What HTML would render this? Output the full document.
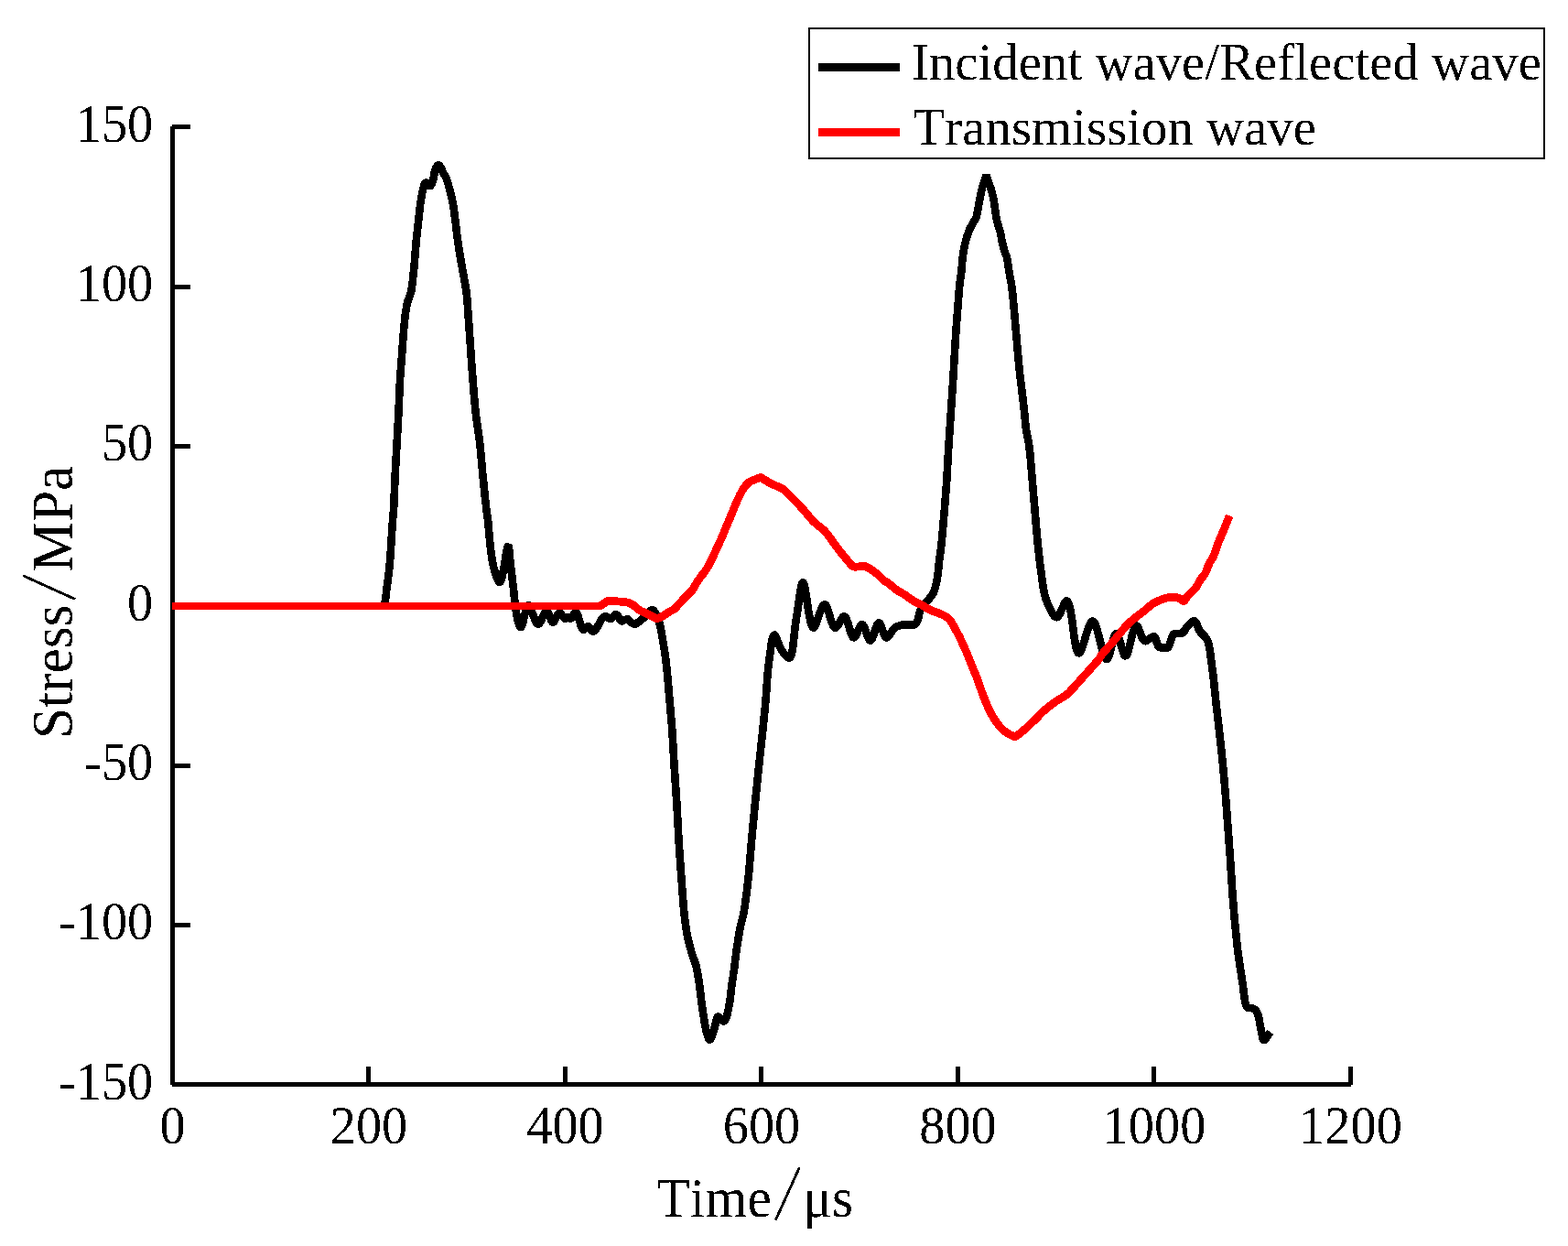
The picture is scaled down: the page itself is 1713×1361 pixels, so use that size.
<!DOCTYPE html>
<html lang="en">
<head>
<meta charset="utf-8">
<title>Stress - time curves: incident/reflected and transmission waves</title>
<style>
html,body{margin:0;padding:0;background:#fff}
body{width:1713px;height:1361px;overflow:hidden}
svg{display:block}
text{font-family:"Liberation Serif",serif;fill:#000;font-kerning:none;font-variant-ligatures:none}
.tk{font-size:56.4px}
.ti{font-size:59.3px}
.ty{font-size:61.3px}
.lg{font-size:56.85px}
.sl{font-family:"IPAGothic","Liberation Serif",sans-serif;font-size:64.6px}
</style>
</head>
<body>
<svg width="1713" height="1361" viewBox="0 0 1713 1361">
<defs><filter id="thr" x="0" y="0" width="1713" height="1361" filterUnits="userSpaceOnUse" color-interpolation-filters="sRGB"><feComponentTransfer><feFuncA type="discrete" tableValues="0 1"/></feComponentTransfer></filter></defs>
<rect width="1713" height="1361" fill="#fff"/>
<g id="axes" fill="#000" shape-rendering="crispEdges">
<path d="M188 136H208V141H191V1182H1473V1165H1478V1185H1476V1187H188V1185H186V138H188Z"/>
<rect x="191" y="311" width="17" height="5"/>
<rect x="191" y="485" width="17" height="5"/>
<rect x="191" y="659" width="17" height="5"/>
<rect x="191" y="834" width="17" height="5"/>
<rect x="191" y="1008" width="17" height="5"/>
<rect x="400" y="1165" width="5" height="17"/>
<rect x="615" y="1165" width="5" height="17"/>
<rect x="829" y="1165" width="5" height="17"/>
<rect x="1044" y="1165" width="5" height="17"/>
<rect x="1258" y="1165" width="5" height="17"/>
</g>
<g id="curves" fill="none" stroke-linejoin="bevel" stroke-linecap="butt" shape-rendering="crispEdges">
<path id="incident" stroke="#000" stroke-width="8.6" d="M418.5 662L419.7 659.7L420.4 657.9L420.9 656L421.3 653.6L422.4 643.6L424.6 627.2L425.7 616.8L426.5 607.3
L428.6 573.9L430.2 553.9L431.7 518L435.3 453.1L437 415.1L440.9 362.7L441.9 351.8L442.9 342.8L443.8 336.9
L444.7 332L445.5 329.1L447.8 323L448.7 320.1L449.3 317.7L450 313.3L450.8 306.8L452.5 290.9L454.8 262.5
L458.8 226.2L459.6 220.3L460.3 215.8L461.1 211.4L462.6 205L463.1 203L463.6 201.7L464.4 200.2L465.1 199.6
L465.4 199.5L465.9 199.7L466.7 200.3L467.5 201L469.3 203.1L469.6 203.2L470 203.1L470.7 202.5L471.8 200.5
L472.9 197.8L473.9 193.3L474.8 187.3L475.2 185.9L475.8 184.4L477.2 181.8L477.9 181L478.5 180.4L478.8 180.3
L479.4 180.4L479.9 180.7L480.5 181.3L481.8 183.5L484.4 189L487.1 193.8L488.1 196L489.6 200.8L492.9 213.4
L494 217.8L495 223.2L496 230.1L498 245.5L500 262.3L501.4 271.7L503.9 287L508 309.2L509.2 316.6L510.2 325.5
L511.1 337L515.5 400.8L517.4 425.8L519.1 444.7L520.3 456.1L523.2 476.4L524.3 484.9L525.3 495.3L527.4 518.7
L529.9 543.1L531.4 556.5L533.2 569.4L535.3 593.3L536.5 603.8L537.7 611.7L538.7 617L539.6 620.8L541 625.8
L542.4 630L543.6 633L544.7 635.1L545.3 635.7L545.6 635.9L545.9 636L546.3 635.8L547 634.8L547.7 633.1
L548.4 630.8L549.1 627.4L550.5 620L553.1 604L554.1 599.1L554.6 597.5L554.9 596.7L555.2 596.5L555.5 596.9
L555.9 598.3L556.3 601.1L557.7 615.9L560.9 642.8L562.6 658.8L563.5 665.8L564.4 671.7L565.4 676.5L566.5 680.7
L567.7 684L568.3 684.9L568.8 685.3L569.2 685.2L569.5 684.9L570.1 683.7L570.8 681.9L571.4 679.6L573.9 668.7
L574.8 665L575.5 663.1L576 662L576.6 661.3L577.1 661L577.5 661.1L578.1 661.6L579.2 663.3L580.3 665.9
L583.3 674.2L584.7 677.8L585.5 679.3L586.2 680.5L587 681.3L587.5 681.7L588 681.8L588.5 681.7L589 681.3
L589.8 680.3L591.1 677.9L593.9 671.7L595 669.5L596.1 668L596.6 667.5L597.1 667.2L597.6 667.3L597.8 667.4
L598.3 667.9L598.8 668.7L599.7 670.9L601.3 675.4L602.3 677.7L603.2 679.3L604 679.8L604.2 679.8L604.8 679.5
L605.6 678.5L609 671.8L609.9 670.4L610.9 669.6L611.5 669.5L611.8 669.6L612.5 670.1L613.1 670.9L615.6 674.4
L616.7 675.4L617.5 675.7L617.9 675.6L619.8 674.6L620.2 674.4L620.7 674.4L621.1 674.6L622.5 675.5L622.9 675.7
L623.3 675.7L624.1 675.3L624.8 674.6L627.7 669.9L628.3 669.3L628.8 669.1L629.4 669.2L630.1 669.9L630.5 670.6
L631.1 671.9L632.1 674.8L634.5 683.3L635.3 685.5L636.2 687L637 687.7L637.6 687.8L637.9 687.8L638.6 687.3
L641.5 684.5L642.3 684.1L642.7 684.1L643.4 684.5L644.1 685.3L646.2 688.4L646.8 689.2L647.5 689.6L647.8 689.7
L648.5 689.6L649.5 689L650.1 688.5L651 687.4L652.5 685L655.5 679.3L656.7 677.2L658 675.4L659.4 674L660.5 673.5
L661.6 673.3L662.9 673.8L665.7 675.6L666.6 676L667.5 675.9L668.3 675.5L669.1 674.8L671.8 671.7L672.5 671.2
L672.9 671.1L673.6 671.2L674.5 672.1L677.2 676.9L677.9 677.8L678.6 678.3L678.9 678.5L679.7 678.4L680.6 678.1
L683.5 676.7L684.5 676.4L685.4 676.3L686.2 676.6L687.1 677.2L690.3 680.4L691.1 681L692.3 681.6L693.2 681.7
L694.4 681.4L695.7 680.9L698.3 679.1L704.4 673.9L705.9 672.3L708.9 668.7L710.4 667.3L711.7 666.4L712.7 666.2
L713.3 666.4L714.3 667.1L715.2 668.3L716.1 669.7L718 673.5L719.2 676.4L719.8 678.3L721.4 684.2L722.9 692
L726.2 712.3L727.4 720.7L729 735.6L732.9 780.4L734 792.9L734.7 803.8L736.6 836.3L739.3 876.7L741.3 913.2
L742.4 931.1L746.2 983.5L747.1 994.4L748.1 1003.9L749.1 1010.8L750.1 1017.8L751.1 1023.2L752.2 1028
L753.7 1033.9L755.7 1041.1L759.2 1051L760.3 1054.3L760.9 1056.7L761.7 1060.6L762.8 1067L764.3 1077
L766.3 1093.8L767.7 1103.7L770.1 1119.1L771.1 1124.5L772.4 1129.4L773.8 1133.5L774.4 1134.9L774.9 1135.5
L775.3 1135.7L775.7 1135.6L776.1 1135.2L776.7 1134.3L778.1 1130.7L780.8 1122.2L782.9 1113.3L783.3 1111.9
L783.8 1110.9L784.4 1110.4L784.9 1110.3L785.2 1110.5L786.2 1111.5L789.2 1114.8L789.9 1115.3L790.2 1115.5
L790.6 1115.5L791.1 1115.3L791.7 1114.7L792.8 1113L793.7 1110.7L794.7 1107.3L796 1101.1L797.6 1092.5
L799.4 1076.5L802.1 1058.2L804.4 1039.4L806.5 1025.5L807.6 1019.1L808.6 1013.7L809.8 1008.4L812.4 997.6
L813.7 989.8L815.8 974.4L818 955L821 919.1L824.7 879.3L829.1 836.5L832.9 801.7L835.8 772.9L837.1 758
L838.3 739.5L839.1 731L840.1 722.6L842.7 703.5L843.8 697.8L844.4 695.7L844.9 694.4L845.4 693.6L845.9 693.3
L846.4 693.5L847 694.4L848.3 697.1L851.2 704.5L852.7 708L854.4 711L855.9 713.1L858.7 716.3L860.4 717.8
L861.3 718.5L861.8 718.7L862.5 718.6L863.1 718.1L863.6 717.3L864.2 715.9L864.9 713.8L865.5 711.1L866.1 707.4
L866.9 700.9L869.1 681.1L870.9 669.6L874.3 645.9L875 641.9L875.7 638.8L876.4 637.1L876.8 636.5L877.1 636.3
L877.4 636.3L877.6 636.5L878.2 637.6L878.8 639.5L879.4 642.7L880.5 649.1L883.5 669L885.2 677.8L885.9 680.9
L886.6 682.9L887.3 684.5L888 685.4L888.6 685.7L889.1 685.6L889.6 685.1L890.3 683.8L891.7 680.5L895.8 668.9
L897.7 664.2L898.7 662.4L899.6 661.1L900.5 660.4L901.1 660.3L901.5 660.5L902.2 661.1L902.8 662.1L903.4 663.3
L904.8 667.1L907.5 676.4L909 680.7L910.3 683.6L911 684.6L911.7 685.3L912.5 685.7L913 685.7L913.5 685.4
L914.1 684.8L915.6 682.7L918.8 676.9L920.1 674.9L921 673.9L921.5 673.5L922.1 673.3L922.6 673.4L923 673.7
L923.7 674.4L924.4 675.6L925.1 677L926.3 680.4L928.8 689.1L929.8 692.1L930.8 694.5L931.5 695.5L931.9 696
L932.6 696.5L933.1 696.5L933.6 696.2L934.3 695.4L935.6 693.1L938.7 686.3L939.7 684.2L940.5 683L941.1 682.5
L941.6 682.2L942 682.2L942.5 682.5L943 683L944.2 685L945.4 687.9L947.8 695L948.9 697.7L949.8 699.1L950.3 699.5
L950.7 699.7L951.2 699.6L951.8 699.1L952.9 697.2L954 694.5L956.6 686.6L957.7 683.7L958.8 681.5L959.4 680.7
L959.9 680.4L960.3 680.3L960.8 680.5L961.6 681.7L962.7 684.1L965.1 691.2L966.3 694.1L967.1 695.3L967.6 696
L968.1 696.4L968.6 696.5L969.2 696.4L969.7 696L970.9 694.8L975.1 688.5L976.5 686.7L978 685.3L979.2 684.6
L982.9 683.2L984.9 682.6L986.4 682.3L988 682.2L989.4 682.2L997.4 682.9L998.3 682.8L999.7 681.9L1000.5 681.1
L1001.4 680L1002.4 678L1003.1 675.6L1004.8 668.4L1005.5 666.6L1006.2 665.3L1007.8 662.8L1011.5 658
L1016.3 652.6L1018.1 650.3L1019.6 647.8L1021 644.1L1022.1 640.2L1023.2 635.3L1024 631.4L1024.6 627.4
L1026.2 611.5L1027.3 604.1L1028.7 592.7L1032.1 553.8L1034.2 525.9L1036.3 488.5L1041 418.6L1043.7 373.2
L1044.7 357.2L1048.1 313.3L1048.8 307.4L1050.4 296.5L1051.3 285L1051.8 280.6L1052.7 274.1L1054.1 267.3
L1055.3 261.9L1057 256.6L1058.5 252.4L1060.1 248.7L1063.5 242.6L1065.8 238.7L1066.5 237.3L1067 236
L1067.6 233.1L1068.8 226.1L1072.3 208L1072.8 206.1L1077.4 191.5L1082.7 206.6L1084.6 213.8L1085.7 219.2
L1087.9 234.6L1088.8 239.5L1090.4 245.8L1093 254.4L1094.7 263.8L1096.6 271.6L1097.4 274.4L1099.6 280.1
L1100.4 282.9L1101 286.3L1102.2 295.3L1104.6 308.6L1105.4 314L1106.2 320.5L1107 328.4L1112.3 389.2
L1114.2 409.1L1118.4 443.3L1120.7 466.7L1121.5 471.7L1124.1 485.4L1125.3 495.3L1126.1 504.3L1127.8 524.8
L1131 563.1L1133.4 590.5L1135 605.9L1136.7 619.8L1139.6 641.2L1141 648.5L1141.7 651.4L1142.8 654.8L1144 658.1
L1145.3 661.3L1147.5 665.8L1149.2 669.1L1150.7 671.5L1152 673.1L1153.2 674.1L1154 674.4L1154.8 674.2
L1155.7 673.6L1156.5 672.6L1157.4 671.2L1159.1 667.7L1162.6 659.8L1163.5 658L1164.1 657L1164.7 656.5
L1165.2 656.4L1165.9 656.7L1166.6 657.7L1167.5 659.4L1168.3 661.8L1169 664.8L1169.8 668.8L1171.1 676.8
L1173.9 698.1L1175.4 706.3L1176.2 709.5L1176.9 711.5L1177.7 712.9L1178.1 713.3L1178.5 713.5L1179.1 713.4
L1180 712.4L1180.8 710.8L1181.8 708.6L1183.5 703.5L1187.9 689.4L1190.2 683.1L1191.3 680.9L1192.1 679.6
L1192.9 678.7L1193.6 678.4L1194 678.4L1194.5 678.7L1195.4 679.7L1196.3 681.4L1197.2 683.6L1198.3 686.8
L1199.3 690.4L1203.5 706.9L1205.4 713.5L1206.4 716.4L1207.4 718.5L1208.3 719.7L1208.8 720L1209.1 720.1
L1209.6 719.9L1210.2 719.4L1210.7 718.5L1211.4 716.9L1212.7 712.5L1215.6 700.8L1216.8 696.6L1217.5 694.6
L1218.2 693.1L1218.9 692.1L1219.5 691.8L1220 691.9L1220.7 692.8L1221.3 693.8L1222 695.6L1223.3 699.8
L1226.2 710L1227.7 714.3L1228.4 715.7L1229.1 716.5L1229.7 716.6L1230.4 716.1L1230.9 715.5L1231.5 714.1
L1232.7 710.8L1233.8 706.5L1236.9 693.5L1238.5 688.2L1239.2 686.3L1240 684.8L1240.7 683.8L1241.5 683.4
L1241.9 683.4L1242.3 683.7L1243.2 684.9L1244.2 687.4L1246.5 693.7L1247.5 696.1L1248.6 698.2L1249.7 699.7
L1250.3 700.1L1250.9 700.3L1252 700.1L1253.7 699.2L1258.6 695.9L1259.8 695.3L1260.5 695.2L1260.8 695.3
L1261.6 696L1262.3 697.3L1264.3 703.4L1265.2 705.6L1266 706.7L1266.6 707.1L1266.9 707.2L1275.4 707.4
L1276 707.2L1276.5 706.7L1277.1 705.4L1280.8 694.9L1281.4 693.4L1281.8 692.7L1282.4 692.3L1283 692.2
L1289.9 691.8L1291.3 691.6L1292 691.4L1292.7 690.9L1293.6 689.7L1295.8 685.8L1296.8 684.5L1299.5 681.8
L1301.6 679.9L1303.2 678.8L1304.3 678.4L1304.9 678.4L1305.5 678.7L1306 679.2L1306.5 679.9L1307.4 681.7
L1309.7 687.4L1311 689.8L1312.2 691.3L1316.3 695.2L1317.2 696.3L1318.4 698.4L1319.7 701.2L1320.5 703.6
L1321.4 707.9L1322.1 712.9L1325.6 739.7L1328.7 769.6L1332.3 800.9L1334.1 816.8L1336.9 845.1L1339.4 875.5
L1343.8 934.9L1346.6 977.8L1347.9 994.2L1349.5 1012.1L1351.2 1029.1L1352.5 1041L1357.9 1076.6L1359.6 1091
L1360.4 1095L1361.1 1097.8L1361.7 1099.3L1362.3 1100.3L1363.3 1100.7L1367.6 1101.3L1369.4 1102L1370.8 1102.8
L1372 1103.8L1372.9 1104.9L1373.5 1106.1L1374.4 1108.5L1375.5 1113L1379 1132.1L1379.7 1134.7L1380.3 1136
L1380.7 1136.4L1381.1 1136.3L1382 1135.5L1387.8 1127.4"/>
<path id="transmission" stroke="#f00" stroke-width="8.8" d="M188 662L654 662L655.4 661.7L658.2 660.4L659 659.8L661.4 657.9L663.1 657L665 656.2L666.5 656.1L673 656.8
L681.4 657.4L684.4 657.9L687.3 658.7L689.6 659.7L691.8 660.9L694.9 663.4L698 666L700.1 667.3L708.7 671.3
L713.2 673.6L716.3 675.3L717.2 675.6L718.7 675.5L720.1 674.9L723.3 673.4L731.2 668.2L735.3 666.2L736.9 665.1
L738.3 663.7L740.9 660.6L745.4 655.8L750.6 650.5L754.6 646.6L756.5 644.3L758.1 641.8L760.5 637.4L762.7 634.1
L765.3 630.4L769.6 624.8L771.6 622L773.9 618.2L776.4 613.3L779.9 606L788 588.3L796 569.4L802.1 554.6
L804.8 548.1L809.1 539.1L811.6 534.7L813.2 532.3L815.1 529.9L816.9 528L818.8 526.5L821.4 525.1L826.1 523.3
L829 522L830.4 521.6L831.3 521.6L832.6 522.2L835.6 524.3L842.1 528.1L844.8 529.4L850.9 531.9L853.5 533.2
L855.2 534.2L856.8 535.4L860.1 538.4L868.3 546.6L873.1 551.7L878.5 557.7L885.2 565.7L888.5 569.4L891.5 572.2
L898.9 578.1L900.7 579.8L902.1 581.3L905.2 585.1L911.6 594.1L919.8 604.9L922.4 608L925.3 611.4L928.8 615.8
L929.9 617L931 618L932.6 618.9L933.8 619.2L936.1 619.1L941.8 618.5L944.2 618.5L946.1 618.9L947.9 619.8
L949.7 620.8L955.2 624.6L957.7 626.4L960.7 629L963.7 632.4L965.1 633.8L966.3 634.6L969 636L970.7 637.1
L978.3 643.6L980.8 645.2L988.2 649.5L996.7 655.6L999.8 657.3L1007 660.8L1013.4 664.8L1016 666.2L1018.7 667.3
L1025.3 669.7L1031.4 672.4L1034.4 674.2L1036.5 676L1037.7 677.4L1039.2 679.4L1042.1 684.3L1047.9 695
L1053 705.9L1056.2 713.2L1062.5 729L1066.2 737.7L1068.3 743.4L1073.1 757.1L1077.3 767.8L1080.5 775.1
L1083.5 780.9L1086.3 785.6L1089.2 789.7L1093 794.4L1096.2 797.6L1098.9 799.8L1102.3 801.9L1107.4 804.3
L1108.3 804.6L1109.2 804.6L1110.5 804L1114.6 800.8L1121.4 795L1130.5 786.4L1139.3 777.4L1143.8 773.5
L1148.5 769.8L1153.8 766L1163.6 760L1165.6 758.5L1167.8 756.5L1170.9 753.3L1198.7 722.3L1200.8 719.6
L1203.5 715.3L1205.3 712.9L1213.7 703.7L1228.7 685.5L1231.3 682.5L1233.8 680.1L1236.8 677.5L1242.7 672.7
L1251.4 666.1L1257.5 660.8L1259.1 659.6L1261.2 658.3L1263.4 657.2L1266.2 656L1268.5 655.1L1274.3 653.2
L1276.7 652.6L1278.7 652.2L1280.6 652.1L1282.1 652.2L1284.2 652.4L1286.7 653L1288.1 653.4L1288.9 653.8
L1291.5 656L1292.2 656.5L1293 656.7L1293.3 656.6L1294 656.2L1294.6 655.4L1296.4 652.4L1297 651.6L1304.8 643.8
L1306.5 641.9L1307.8 639.8L1310.4 634.9L1311.4 633.2L1312.6 631.6L1315.2 628.5L1316.5 626.5L1317.8 623.8
L1319.9 618.1L1321.1 615.3L1322 613.6L1324.4 610.3L1325.9 607.3L1327.3 603.5L1330.9 593L1337.4 577.9
L1343.2 563.2"/>
</g>
<g id="legend" shape-rendering="crispEdges">
<rect x="884" y="31" width="803" height="142" fill="#fff" stroke="#000" stroke-width="2"/>
<rect x="894" y="69" width="89" height="9" fill="#000"/>
<rect x="894" y="140" width="89" height="9" fill="#f00"/>
</g>
<g id="labels" filter="url(#thr)">
<text class="tk" transform="translate(167.3 154.6) scale(1 1.035)" text-anchor="end">150</text>
<text class="tk" transform="translate(167.3 328.9) scale(1 1.035)" text-anchor="end">100</text>
<text class="tk" transform="translate(167.3 503.3) scale(1 1.035)" text-anchor="end">50</text>
<text class="tk" transform="translate(167.3 677.6) scale(1 1.035)" text-anchor="end">0</text>
<text class="tk" transform="translate(167.3 851.9) scale(1 1.035)" text-anchor="end">-50</text>
<text class="tk" transform="translate(167.3 1026.3) scale(1 1.035)" text-anchor="end">-100</text>
<text class="tk" transform="translate(167.3 1200.6) scale(1 1.035)" text-anchor="end">-150</text>
<text class="tk" transform="translate(188.5 1248.7) scale(1 1.035)" text-anchor="middle">0</text>
<text class="tk" transform="translate(403 1248.7) scale(1 1.035)" text-anchor="middle">200</text>
<text class="tk" transform="translate(617.5 1248.7) scale(1 1.035)" text-anchor="middle">400</text>
<text class="tk" transform="translate(832 1248.7) scale(1 1.035)" text-anchor="middle">600</text>
<text class="tk" transform="translate(1046.5 1248.7) scale(1 1.035)" text-anchor="middle">800</text>
<text class="tk" transform="translate(1261 1248.7) scale(1 1.035)" text-anchor="middle">1000</text>
<text class="tk" transform="translate(1475.5 1248.7) scale(1 1.035)" text-anchor="middle">1200</text>
<text class="ti" transform="translate(717.6 1329.1) scale(1 1.025)">Time<tspan class="sl" x="126.6">/</tspan><tspan x="159.6">μs</tspan></text>
<text class="ti ty" transform="translate(79 806.9) rotate(-90) scale(1 1.025)">Stress<tspan class="sl" x="149.2">/</tspan><tspan x="182.4">MPa</tspan></text>
<text class="lg" transform="translate(996 87.2) scale(1 1.015)">Incident wave/Reflected wave</text>
<text class="lg" transform="translate(997.6 158) scale(1 1.015)">Transmission wave</text>
</g>
</svg>
</body>
</html>
